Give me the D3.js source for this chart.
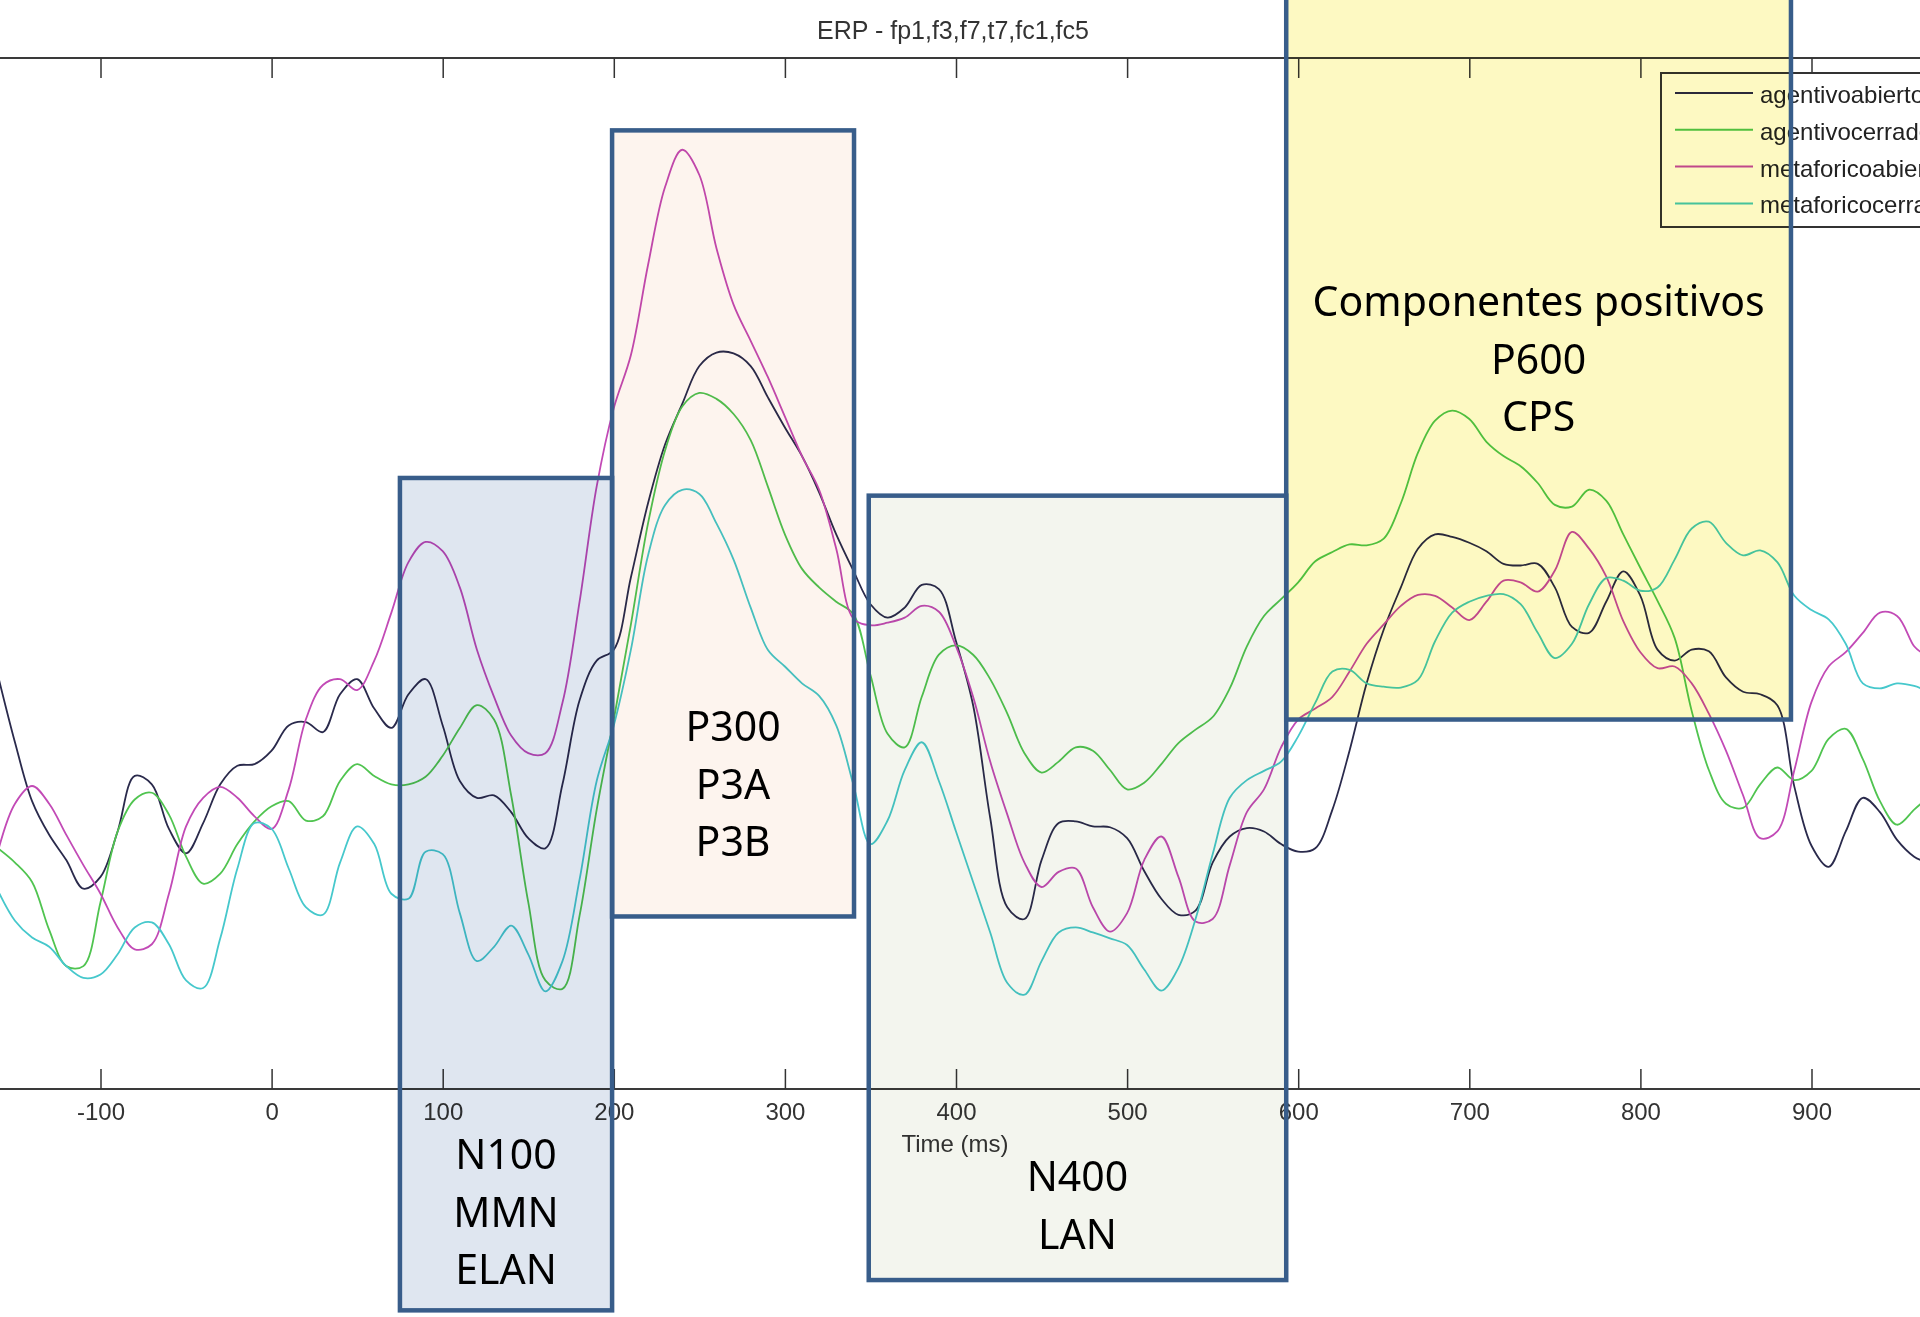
<!DOCTYPE html>
<html lang="es">
<head>
<meta charset="utf-8">
<title>ERP - fp1,f3,f7,t7,fc1,fc5</title>
<style>
body { margin: 0; background: #fff; }
svg { display: block; }
.axis text { font: 24px "Liberation Sans", Arial, sans-serif; fill: #333; }
.axis line { stroke: #333; stroke-width: 1.5; }
.frame { stroke: #3a3a3a; stroke-width: 2; }
.plain { font: 25px "Liberation Sans", Arial, sans-serif; fill: #333; text-anchor: middle; }
.legend text { font: 24px "Liberation Sans", Arial, sans-serif; fill: #222; }
.label { font: 41px "Noto Sans", "Open Sans", sans-serif; fill: #000; text-anchor: middle; }
</style>
</head>
<body>
<div id="chart"></div>
<script src="https://d3js.org/d3.v7.min.js"></script>
<script>
// sample times (ms)
const times = [-160, -150, -140, -130, -120, -110, -100, -90, -80, -70, -60, -50, -40, -30, -20, -10,
  0, 10, 20, 30, 40, 50, 60, 70, 80, 90, 100, 110, 120, 130, 140, 150, 160, 170, 180, 190,
  200, 210, 220, 230, 240, 250, 260, 270, 280, 290, 300, 310, 320, 330, 340, 350, 360, 370, 380, 390,
  400, 410, 420, 430, 440, 450, 460, 470, 480, 490, 500, 510, 520, 530, 540, 550, 560, 570, 580, 590,
  600, 610, 620, 630, 640, 650, 660, 670, 680, 690, 700, 710, 720, 730, 740, 750, 760, 770, 780, 790,
  800, 810, 820, 830, 840, 850, 860, 870, 880, 890, 900, 910, 920, 930, 940, 950, 960, 964];

// amplitudes
const agentivoAbierto = [-1.47, -2.27, -2.97, -3.37, -3.67, -4.01, -3.87, -3.33, -2.67, -2.77, -3.30, -3.59, -3.23, -2.77, -2.55, -2.53,
  -2.37, -2.07, -2.03, -2.15, -1.70, -1.52, -1.87, -2.10, -1.70, -1.52, -2.07, -2.73, -2.93, -2.90, -3.10, -3.41, -3.53, -2.77, -1.77, -1.30,
  -1.17, -0.31, 0.57, 1.27, 1.75, 2.20, 2.36, 2.35, 2.20, 1.83, 1.47, 1.13, 0.70, 0.20, -0.23, -0.63, -0.79, -0.67, -0.40, -0.45,
  -1.07, -1.83, -3.17, -4.23, -4.37, -3.67, -3.23, -3.21, -3.27, -3.28, -3.41, -3.80, -4.13, -4.32, -4.27, -3.70, -3.39, -3.29, -3.33, -3.48,
  -3.57, -3.53, -3.07, -2.37, -1.57, -0.93, -0.43, 0.03, 0.20, 0.17, 0.10, 0.00, -0.15, -0.17, -0.15, -0.43, -0.90, -0.97, -0.60, -0.24,
  -0.53, -1.17, -1.30, -1.17, -1.19, -1.50, -1.67, -1.70, -1.83, -2.80, -3.50, -3.75, -3.33, -2.93, -3.10, -3.43, -3.63, -3.67];

const agentivoCerrado = [-3.53, -3.70, -3.93, -4.50, -4.93, -4.93, -4.17, -3.33, -2.95, -2.87, -3.13, -3.63, -3.95, -3.83, -3.48, -3.21,
  -3.03, -2.97, -3.20, -3.15, -2.73, -2.53, -2.67, -2.77, -2.77, -2.68, -2.43, -2.10, -1.83, -2.00, -2.90, -4.17, -5.10, -5.20, -4.33, -3.07,
  -2.00, -0.87, 0.33, 1.20, 1.72, 1.88, 1.81, 1.63, 1.32, 0.77, 0.20, -0.21, -0.43, -0.60, -0.75, -1.47, -2.17, -2.33, -1.73, -1.23,
  -1.12, -1.23, -1.52, -1.93, -2.40, -2.63, -2.50, -2.33, -2.37, -2.60, -2.83, -2.75, -2.53, -2.28, -2.12, -1.97, -1.63, -1.13, -0.77, -0.57,
  -0.37, -0.12, -0.01, 0.08, 0.07, 0.15, 0.57, 1.17, 1.55, 1.67, 1.57, 1.30, 1.13, 1.01, 0.81, 0.55, 0.53, 0.73, 0.60, 0.20,
  -0.20, -0.59, -1.03, -1.90, -2.60, -3.00, -3.05, -2.77, -2.57, -2.72, -2.61, -2.23, -2.11, -2.47, -2.97, -3.25, -3.07, -3.00];

const metaforicoAbierto = [-3.57, -3.00, -2.79, -3.00, -3.37, -3.73, -4.07, -4.47, -4.73, -4.67, -4.07, -3.27, -2.93, -2.80, -2.93, -3.15,
  -3.30, -2.83, -2.00, -1.59, -1.52, -1.65, -1.30, -0.73, -0.13, 0.11, 0.00, -0.43, -1.17, -1.73, -2.19, -2.40, -2.40, -1.80, -0.60, 0.77,
  1.70, 2.33, 3.40, 4.33, 4.77, 4.47, 3.60, 2.93, 2.50, 2.07, 1.60, 1.13, 0.73, 0.03, -0.80, -0.88, -0.85, -0.79, -0.65, -0.72,
  -1.13, -1.73, -2.50, -3.13, -3.70, -3.99, -3.81, -3.77, -4.23, -4.52, -4.30, -3.67, -3.39, -3.87, -4.40, -4.37, -3.73, -3.10, -2.83, -2.33,
  -2.00, -1.87, -1.73, -1.43, -1.10, -0.87, -0.65, -0.52, -0.53, -0.67, -0.82, -0.60, -0.35, -0.37, -0.48, -0.23, 0.23, 0.03, -0.30, -0.83,
  -1.20, -1.39, -1.37, -1.57, -1.93, -2.37, -2.90, -3.41, -3.33, -2.60, -1.79, -1.37, -1.20, -0.97, -0.73, -0.77, -1.13, -1.20];

const metaforicoCerrado = [-4.03, -4.39, -4.59, -4.70, -4.93, -5.07, -5.03, -4.79, -4.47, -4.41, -4.67, -5.10, -5.19, -4.60, -3.77, -3.23,
  -3.30, -3.77, -4.23, -4.32, -3.70, -3.27, -3.48, -4.07, -4.13, -3.57, -3.60, -4.30, -4.87, -4.70, -4.45, -4.79, -5.23, -4.87, -3.90, -2.73,
  -2.07, -1.17, -0.05, 0.55, 0.73, 0.68, 0.33, -0.10, -0.67, -1.17, -1.37, -1.57, -1.72, -2.07, -2.77, -3.48, -3.20, -2.60, -2.27, -2.73,
  -3.33, -3.93, -4.53, -5.13, -5.27, -4.87, -4.53, -4.47, -4.53, -4.60, -4.68, -4.97, -5.22, -4.95, -4.37, -3.60, -2.93, -2.72, -2.61, -2.50,
  -2.20, -1.80, -1.43, -1.41, -1.57, -1.61, -1.62, -1.53, -1.07, -0.73, -0.60, -0.53, -0.51, -0.63, -0.97, -1.27, -1.10, -0.63, -0.32, -0.35,
  -0.47, -0.43, -0.10, 0.27, 0.35, 0.10, -0.05, 0.01, -0.13, -0.53, -0.70, -0.81, -1.10, -1.57, -1.63, -1.57, -1.60, -1.63];

const seriesNames = ["agentivoabierto", "agentivocerrado", "metaforicoabierto", "metaforicocerrado"];
const seriesValues = [agentivoAbierto, agentivoCerrado, metaforicoAbierto, metaforicoCerrado];
const seriesColors = ["#2a2a4c", "#50c450", "#c24ab6", "#46c8cc"];

const xTicks = [-100, 0, 100, 200, 300, 400, 500, 600, 700, 800, 900];
const xTickLabels = ["-100", "0", "100", "200", "300", "400", "500", "600", "700", "800", "900"];

// component windows (ms) and their amplitude span
const components = [
  { lines: ["N100", "MMN", "ELAN"], t0: 75, t1: 199, v0: -9.02, v1: 0.87, fill: "#dfe6f0", base: 1169 },
  { lines: ["P300", "P3A", "P3B"], t0: 199, t1: 340.4, v0: -4.34, v1: 5.0, fill: "#fdf4ee", base: 741 },
  { lines: ["N400", "LAN"], t0: 349, t1: 593, v0: -8.66, v1: 0.66, fill: "#f3f5ee", base: 1191 },
  { lines: ["Componentes positivos", "P600", "CPS"], t0: 593, t1: 888, v0: -2.0, v1: 6.66, fill: "#fdf9c2", base: 316 }
];

const width = 1920, height = 1317;
const plotTop = 58, plotBottom = 1089;

const svg = d3.select("#chart").append("svg")
  .attr("width", width)
  .attr("height", height);

svg.append("rect").attr("width", width).attr("height", height).attr("fill", "#fff");

const x = d3.scaleLinear().domain([-100, 900]).range([100.5, 1811.5]);
const y = d3.scaleLinear().domain([-6.39, 5.86]).range([plotBottom, plotTop]);

// frame lines (box runs past the picture on both sides)
svg.append("line").attr("class", "frame").attr("x1", 0).attr("x2", width).attr("y1", plotTop).attr("y2", plotTop);
svg.append("line").attr("class", "frame").attr("x1", 0).attr("x2", width).attr("y1", plotBottom).attr("y2", plotBottom);

svg.append("g")
  .attr("class", "axis")
  .attr("transform", `translate(0,${plotBottom})`)
  .call(d3.axisBottom(x).tickValues(xTicks).tickFormat((d, i) => xTickLabels[i])
    .tickSizeInner(-20).tickSizeOuter(0).tickPadding(14))
  .call(g => g.select(".domain").remove());

svg.append("g")
  .attr("class", "axis")
  .attr("transform", `translate(0,${plotTop})`)
  .call(d3.axisTop(x).tickValues(xTicks).tickFormat("").tickSizeInner(-20).tickSizeOuter(0))
  .call(g => g.select(".domain").remove());

svg.append("text").attr("class", "plain").attr("x", 953).attr("y", 39).text("ERP - fp1,f3,f7,t7,fc1,fc5");
svg.append("text").attr("class", "plain").attr("x", 955).attr("y", 1152).style("font-size", "24px").text("Time (ms)");

// ERP traces
const line = d3.line()
  .x((d, i) => x(times[i]))
  .y(d => y(d))
  .curve(d3.curveCatmullRom.alpha(0.5));

svg.append("g").selectAll("path")
  .data(seriesValues)
  .join("path")
  .attr("d", d => line(d))
  .attr("fill", "none")
  .attr("stroke", (d, i) => seriesColors[i])
  .attr("stroke-width", 1.8);

// legend (runs off the right edge, as in the original figure)
const legend = svg.append("g").attr("class", "legend");
legend.append("rect")
  .attr("x", 1661).attr("y", 73).attr("width", 320).attr("height", 154)
  .attr("fill", "#fff").attr("stroke", "#333").attr("stroke-width", 2);
const rows = legend.selectAll("g.row").data(seriesNames).join("g")
  .attr("class", "row")
  .attr("transform", (d, i) => `translate(0,${93 + i * 36.8})`);
rows.append("line")
  .attr("x1", 1675).attr("x2", 1753)
  .attr("stroke", (d, i) => seriesColors[i]).attr("stroke-width", 2);
rows.append("text").attr("x", 1760).attr("y", 10).text(d => d);

// component boxes
const boxes = svg.append("g");
boxes.selectAll("rect.fill").data(components).join("rect")
  .attr("class", "fill")
  .attr("x", d => x(d.t0)).attr("width", d => x(d.t1) - x(d.t0))
  .attr("y", d => y(d.v1)).attr("height", d => y(d.v0) - y(d.v1))
  .attr("fill", d => d.fill)
  .style("mix-blend-mode", "multiply");
boxes.selectAll("rect.edge").data(components).join("rect")
  .attr("class", "edge")
  .attr("x", d => x(d.t0)).attr("width", d => x(d.t1) - x(d.t0))
  .attr("y", d => y(d.v1)).attr("height", d => y(d.v0) - y(d.v1))
  .attr("fill", "none")
  .attr("stroke", "#385d8a")
  .attr("stroke-width", 4.5);

const labels = svg.append("g");
components.forEach(c => {
  c.lines.forEach((txt, j) => {
    labels.append("text")
      .attr("class", "label")
      .attr("x", (x(c.t0) + x(c.t1)) / 2)
      .attr("y", c.base + j * 57.5)
      .text(txt);
  });
});
</script>
</body>
</html>
